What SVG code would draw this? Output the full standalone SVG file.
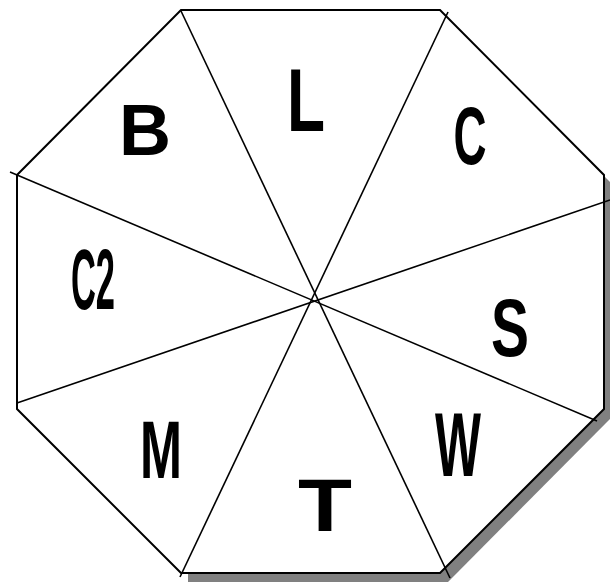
<svg xmlns="http://www.w3.org/2000/svg" width="610" height="588" viewBox="0 0 610 588">
<style>
.lbl{font-family:"Liberation Sans",Arial,sans-serif;font-weight:bold;fill:#000;text-anchor:middle}
.sp{stroke:#000;stroke-width:1.6;fill:none}
</style>
<rect width="610" height="588" fill="#fff"/>
<g id="shadow">
<polygon points="188,19 448,19 611,183 611,418 448,582 188,582" fill="#808080"/>
</g>
<g id="octagon">
<polygon points="181,10 440,10 604,175 604,409 440,573 181,573 17,409 17,175" fill="#fff" stroke="#000" stroke-width="2"/>
</g>
<g id="connectors">
<line class="sp" x1="181" y1="11" x2="450" y2="578"/>
<line class="sp" x1="448" y1="12" x2="180" y2="577"/>
<line class="sp" x1="10" y1="172" x2="597" y2="421"/>
<line class="sp" x1="17" y1="403" x2="610" y2="200"/>
</g>
<g id="B"><text class="lbl" x="145" y="155" font-size="72" textLength="52" lengthAdjust="spacingAndGlyphs">B</text></g>
<g id="L"><text class="lbl" x="306" y="131" font-size="89" textLength="38" lengthAdjust="spacingAndGlyphs">L</text></g>
<g id="C"><text class="lbl" x="470" y="164" font-size="82" textLength="33" lengthAdjust="spacingAndGlyphs">C</text></g>
<g id="C2"><text class="lbl" x="93" y="309" font-size="85" textLength="44" lengthAdjust="spacingAndGlyphs">C2</text></g>
<g id="S"><text class="lbl" x="510" y="356" font-size="81" textLength="38" lengthAdjust="spacingAndGlyphs">S</text></g>
<g id="M"><text class="lbl" x="161" y="478" font-size="81" textLength="42" lengthAdjust="spacingAndGlyphs">M</text></g>
<g id="W"><text class="lbl" x="458" y="476" font-size="90" textLength="46" lengthAdjust="spacingAndGlyphs">W</text></g>
<g id="T"><text class="lbl" x="325" y="531" font-size="74" textLength="54" lengthAdjust="spacingAndGlyphs">T</text></g>
</svg>
